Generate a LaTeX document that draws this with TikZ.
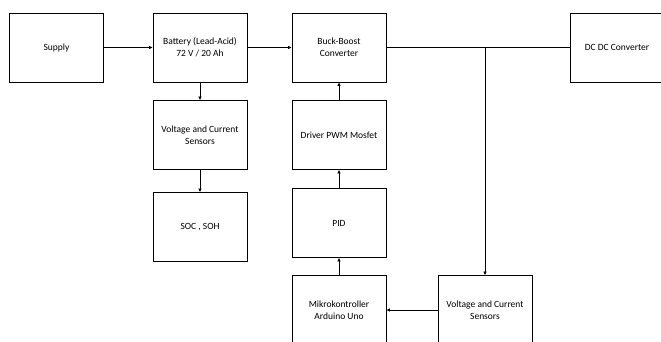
\documentclass[tikz,border=0pt]{standalone}
\usepackage{fontspec}
\setmainfont{Carlito}
\usepackage{tikz}
\usetikzlibrary{arrows.meta,positioning}

\begin{document}
\begin{tikzpicture}[x=1pt,y=-1pt,font=\fontsize{9.5}{11.7}\selectfont,
  block/.style={draw,line width=0.8pt,minimum width=94pt,minimum height=69pt,align=center,inner sep=0pt},
  arr/.style={line width=0.8pt,-{Latex[length=3.5pt,width=3.5pt]}},
  wire/.style={line width=0.8pt}]
  \useasboundingbox (0,0) rectangle (661,342);
  \clip (0,0) rectangle (661,342);
  % top row
  \node[block] (supply) at (56.5,47.5) {Supply};
  \node[block] (battery) at (200,47.5) {Battery (Lead-Acid)\\72 V / 20 Ah};
  \node[block] (buck) at (339,47.5) {Buck-Boost\\Converter};
  \node[block] (dcdc) at (617,47.5) {DC DC Converter};
  % battery branch
  \node[block] (vsens) at (200,135) {Voltage and Current\\Sensors};
  \node[block] (soc) at (200,227) {SOC , SOH};
  % control branch
  \node[block] (driver) at (339,135) {Driver PWM Mosfet};
  \node[block] (pid) at (339,223) {PID};
  \node[block] (mikro) at (339,310) {Mikrokontroller\\Arduino Uno};
  \node[block] (isens) at (485,310) {Voltage and Current\\Sensors};
  \coordinate (tap) at (isens.north |- buck.east);
  % connectors
  \draw[arr] (supply) -- (battery);
  \draw[arr] (battery) -- (buck);
  \draw[wire] (buck) -- (dcdc);
  \draw[arr] (battery) -- (vsens);
  \draw[arr] (vsens) -- (soc);
  \draw[arr] (driver) -- (buck);
  \draw[arr] (pid) -- (driver);
  \draw[arr] (mikro) -- (pid);
  \draw[arr] (tap) -- (isens);
  \draw[arr] (isens) -- (mikro);
\end{tikzpicture}
\end{document}
